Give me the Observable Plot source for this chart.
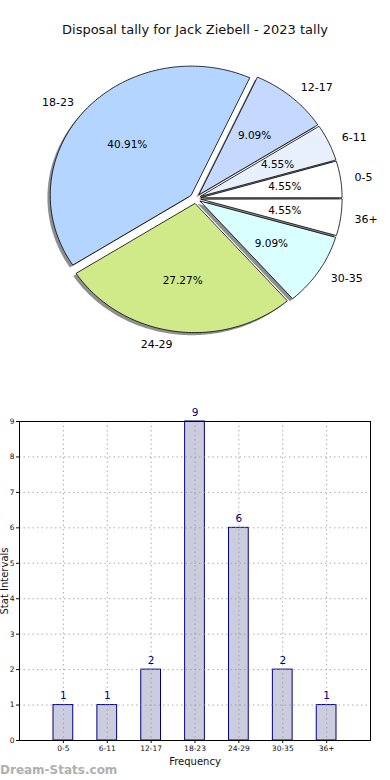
<!DOCTYPE html>
<html>
<head>
<meta charset="utf-8">
<script src="https://cdn.jsdelivr.net/npm/d3@7"></script>
<script src="https://cdn.jsdelivr.net/npm/@observablehq/plot@0.6"></script>
<style>
  body { margin: 0; background: #fff; font-family: "DejaVu Sans", sans-serif; width: 390px; height: 780px; position: relative; overflow: hidden; }
  #title { height: 50px; line-height: 60px; text-align: center; font-size: 13px; color: #111; }
  #pie svg, #bar svg { display: block; }
  #mark { position: absolute; left: 0; top: 763px; font-size: 12px; font-weight: bold; color: #b0b0b0; font-family: "DejaVu Sans", sans-serif; }
</style>
</head>
<body>
<div id="title">Disposal tally for Jack Ziebell - 2023 tally</div>
<div id="pie"></div>
<div id="bar"></div>
<div id="mark">Dream-Stats.com</div>
<script>
const categories = ["0-5", "6-11", "12-17", "18-23", "24-29", "30-35", "36+"];
const counts = [1, 1, 2, 9, 6, 2, 1];
const sliceColors = ["#ffffff", "#e8f0fd", "#c5d9ff", "#b3d5ff", "#d0ea8a", "#d9ffff", "#ffffff"];
const explode = [0.04, 0.04, 0.04, 0.04, 0.04, 0.04, 0.04];

// ---------- Pie ----------
const total = d3.sum(counts);
const pieGen = d3.pie().sort(null).value(d => d)
  .startAngle(0).endAngle(2 * Math.PI);
const arcs = pieGen(counts);
const polys = [];
const shadows = [];
const outer = [];
const inner = [];
arcs.forEach((a, i) => {
  // angles used counter-clockwise from east (matplotlib convention)
  const t0 = a.startAngle, t1 = a.endAngle;
  const mid = (t0 + t1) / 2;
  const ex = explode[i] * Math.cos(mid), ey = explode[i] * Math.sin(mid);
  const n = Math.max(4, Math.ceil((t1 - t0) / 0.02));
  const pts = [[ex, ey]];
  for (let k = 0; k <= n; k++) {
    const t = t0 + (t1 - t0) * k / n;
    pts.push([ex + Math.cos(t), ey + Math.sin(t)]);
  }
  pts.forEach(([x, y], k) => {
    polys.push({slice: categories[i], x, y, k});
    shadows.push({slice: categories[i], x: x - 0.02, y: y - 0.02, k});
  });
  outer.push({label: categories[i], x: ex + 1.1 * Math.cos(mid), y: ey + 1.1 * Math.sin(mid), right: Math.cos(mid) >= 0});
  inner.push({label: (100 * counts[i] / total).toFixed(2) + "%", x: ex + 0.6 * Math.cos(mid), y: ey + 0.6 * Math.sin(mid)});
});
const outerRight = outer.filter(d => d.right);
const outerLeft = outer.filter(d => !d.right);

const pieW = 390, pieH = 320;
const cx = 195, cy = 148, rx = 141, ry = 129;
const pie = Plot.plot({
  width: pieW, height: pieH,
  margin: 0,
  x: {domain: [-cx / rx, (pieW - cx) / rx], range: [0, pieW], axis: null},
  y: {domain: [-(pieH - cy) / ry, cy / ry], range: [pieH, 0], axis: null},
  color: {domain: categories, range: sliceColors},
  style: {fontFamily: "DejaVu Sans, sans-serif", background: "white"},
  marks: [
    Plot.line(shadows, {x: "x", y: "y", z: "slice", curve: "linear-closed", fill: "#333", fillOpacity: 0.55, stroke: "none"}),
    Plot.line(polys, {x: "x", y: "y", z: "slice", curve: "linear-closed", fill: "slice", stroke: "black", strokeWidth: 0.8}),
    Plot.text(inner, {x: "x", y: "y", text: "label", fontSize: 10.5, fill: "black"}),
    Plot.text(outerRight, {x: "x", y: "y", text: "label", fontSize: 11, fill: "black", textAnchor: "start"}),
    Plot.text(outerLeft, {x: "x", y: "y", text: "label", fontSize: 11, fill: "black", textAnchor: "end"})
  ]
});
document.getElementById("pie").appendChild(pie);

// ---------- Bar ----------
const barData = categories.map((c, i) => ({cat: c, n: counts[i]}));
const yTicks = [0, 1, 2, 3, 4, 5, 6, 7, 8, 9];
const bar = Plot.plot({
  width: 390, height: 410,
  marginTop: 51, marginBottom: 40, marginLeft: 19, marginRight: 20,
  style: {fontFamily: "DejaVu Sans, sans-serif", background: "white", color: "#111"},
  x: {domain: categories, paddingInner: 0.55, paddingOuter: 0.775, align: 0.5, round: false, label: null},
  y: {domain: [0, 9], ticks: yTicks, label: null},
  marks: [
    Plot.barY(barData, {x: "cat", y: "n", fill: "#ccccdf", stroke: "#000080", strokeWidth: 1}),
    Plot.gridY(yTicks, {stroke: "#999", strokeOpacity: 0.8, strokeDasharray: "1.5,3", strokeWidth: 1}),
    Plot.gridX(categories, {stroke: "#999", strokeOpacity: 0.8, strokeDasharray: "1.5,3", strokeWidth: 1}),
    Plot.axisX({fontSize: 7.5, tickSize: 3, tickPadding: 2, anchor: "bottom"}),
    Plot.axisY({ticks: yTicks, fontSize: 7.5, tickSize: 3, tickPadding: 2}),
    Plot.frame({stroke: "black", strokeWidth: 1}),
    Plot.text(barData, {x: "cat", y: "n", text: d => String(d.n), dy: -9, fontSize: 10.5, fill: "#000080"}),
    Plot.text(["Frequency"], {frameAnchor: "bottom", dy: 21, lineAnchor: "middle", textAnchor: "middle", fontSize: 10, fill: "#111"}),
    Plot.text(["Stat Intervals"], {frameAnchor: "left", dx: -15, rotate: -90, textAnchor: "middle", lineAnchor: "middle", fontSize: 10, fill: "#111"})
  ]
});
document.getElementById("bar").appendChild(bar);
</script>
</body>
</html>
